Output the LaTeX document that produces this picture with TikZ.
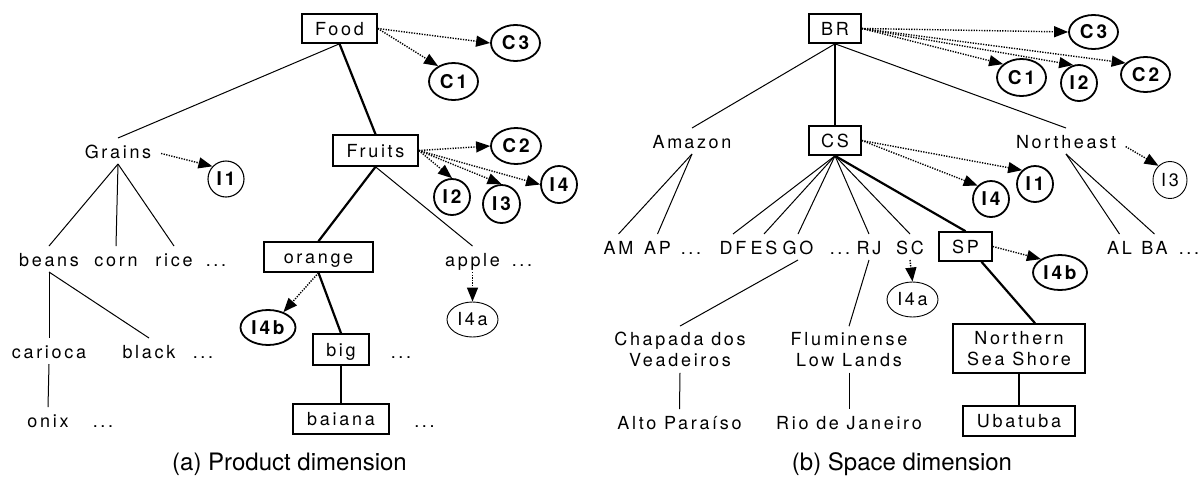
\documentclass[tikz,border=0pt]{standalone}
\usepackage{fontspec}
\setmainfont{TeX Gyre Heros}
\newfontfamily\lblfont[LetterSpace=15]{TeX Gyre Heros}
\newfontfamily\capfont{TeX Gyre Heros}
\usetikzlibrary{shapes.geometric,arrows.meta,calc}

\begin{document}
\begin{tikzpicture}[x=1pt, y=-1pt,
  every node/.style={font=\lblfont\fontsize{18}{21}\selectfont},
  lbl/.style={inner sep=0pt, outer ysep=6pt, text height=14pt, text depth=0pt},
  multi/.style={inner sep=0pt, outer ysep=6pt, align=center},
  tallbox/.style={draw, line width=1.6pt, inner sep=0pt},
  box/.style={tallbox, text height=13pt, text depth=0pt},
  bub/.style={ellipse, draw, inner sep=0pt, line width=1.8pt,
    font=\lblfont\bfseries\fontsize{19}{21}\selectfont,
    minimum width=49pt, minimum height=36pt},
  ibub/.style={bub, minimum width=36pt, minimum height=36pt},
  midbub/.style={ibub, line width=1.1pt},
  thinbub/.style={ellipse, draw, inner sep=0pt, line width=0.9pt},
  caption/.style={inner sep=0pt, font=\capfont\fontsize{24}{28}\selectfont},
  edge/.style={line width=1pt},
  strong/.style={line width=2.2pt},
  ref/.style={line width=1.4pt, dash pattern=on 1.3pt off 1.3pt,
    -{Triangle[length=14pt,width=11pt]}},
]
\useasboundingbox (0,0) rectangle (1199,480);

% ---------- (a) Product dimension ----------
\node[box, minimum width=75pt, minimum height=29pt] (food) at (339.5,28.5) {Food};
\node[lbl] (grains) at (118,151) {Grains};
\node[box, minimum width=85pt, minimum height=31pt] (fruits) at (375.5,150.5) {Fruits};
\node[bub] (c3L) at (515.5,43) {C3};
\node[bub, minimum height=37pt] (c1L) at (453.5,81.5) {C1};
\node[bub, minimum width=50pt] (c2L) at (516,146) {C2};
\node[ibub] (i2L) at (452,197) {I2};
\node[ibub, minimum width=37pt, minimum height=38pt] (i3L) at (501.5,204) {I3};
\node[ibub, minimum height=37pt] (i4L) at (559,184.5) {I4};
\node[midbub] (i1L) at (226,179) {I1};

\node[lbl] (beans) at (49,259) {beans};
\node[lbl] (corn) at (116,259) {corn};
\node[lbl] (rice) at (174,259) {rice};
\node[lbl] (moreG) at (216,259) {...};
\node[box, minimum width=109pt, minimum height=30pt] (orange) at (318.5,257) {orange};
\node[lbl] (apple) at (472.5,259) {apple};
\node[lbl] (moreF) at (522,259) {...};
\node[thinbub, minimum width=51pt, minimum height=35pt] (i4aL) at (472.5,319.5) {I4a};
\node[bub, minimum width=55pt, minimum height=35pt] (i4bL) at (268,327.5) {I4b};

\node[lbl] (carioca) at (49,351) {carioca};
\node[lbl] (black) at (149,351) {black};
\node[lbl] (moreB) at (203,351) {...};
\node[box, minimum width=56pt, minimum height=31pt] (big) at (341,349.5) {big};
\node[lbl] (moreO) at (401,351) {...};
\node[lbl] (onix) at (48,420) {onix};
\node[lbl] (moreC) at (103,420) {...};
\node[box, minimum width=96pt, minimum height=30pt] (baiana) at (341,419) {baiana};
\node[lbl] (moreBig) at (424.5,420) {...};
\node[caption] (capA) at (289.5,464) {(a) Product dimension};

\draw[edge] (food.south) -- (grains.north);
\draw[strong] (food.south) -- (fruits.north);
\foreach \c in {beans,corn,rice} \draw[edge] (grains.south) -- (\c.north);
\draw[strong] (fruits.south) -- (orange.north);
\draw[edge] (fruits.south) -- (apple.north);
\draw[edge] (beans.south) -- (carioca.north);
\draw[edge] (beans.south) -- (black.north);
\draw[edge] (carioca.south) -- (onix.north);
\draw[strong] (orange.south) -- (big.north);
\draw[strong] (big.south) -- (baiana.north);

\draw[ref] (food.east) -- (c3L.west);
\draw[ref] (food.east) -- (c1L.135);
\draw[ref] (fruits.east) -- (c2L.west);
\draw[ref] (fruits.east) -- (i2L.north);
\draw[ref] (fruits.east) -- (i3L.north);
\draw[ref] (fruits.east) -- (i4L.west);
\draw[ref, shorten <=10pt] (grains.east) -- (i1L.137);
\draw[ref] (orange.south) -- (i4bL.45);
\draw[ref] (apple.south) -- (i4aL.north);

% ---------- (b) Space dimension ----------
\node[box, minimum width=52pt, minimum height=29pt] (br) at (835,28.5) {BR};
\node[lbl] (amazon) at (692,141) {Am\kern2pt azon};
\node[box, minimum width=52pt, minimum height=29pt] (cs) at (835,140.5) {CS};
\node[lbl] (northeast) at (1066,141) {Northeast};
\node[bub, minimum height=34pt] (c3R) at (1093.5,32) {C3};
\node[bub, minimum height=37pt] (c1R) at (1021.5,77.5) {C1};
\node[ibub] (i2R) at (1079,83) {I2};
\node[bub, minimum height=35pt] (c2R) at (1145.5,74.5) {C2};
\node[ibub] (i1R) at (1035,184) {I1};
\node[ibub] (i4R) at (991,199) {I4};
\node[thinbub, minimum width=34pt, minimum height=37pt] (i3R) at (1170,180) {I3};

\node[lbl] (am) at (618.5,247) {AM};
\node[lbl] (ap) at (657.5,247) {AP};
\node[lbl] (moreAm) at (691,247) {...};
\node[lbl] (df) at (733,247) {DF};
\node[lbl] (es) at (764,247) {ES};
\node[lbl] (go) at (798,247) {GO};
\node[lbl] (moreCS) at (840,247) {...};
\node[lbl] (rj) at (869,247) {RJ};
\node[lbl] (sc) at (910,247) {SC};
\node[box, minimum width=53pt, minimum height=29pt] (sp) at (965.5,246.5) {SP};
\node[lbl] (al) at (1119.5,247) {AL};
\node[lbl] (ba) at (1154.5,247) {BA};
\node[lbl] (moreNE) at (1189,247) {...};
\node[thinbub, minimum width=51pt, minimum height=35pt] (i4aR) at (912.5,299.5) {I4a};
\node[bub, minimum width=54pt, minimum height=35pt] (i4bR) at (1060,272.5) {I4b};

\node[multi] (chapada) at (680,349.4) {Chapada dos\\Veadeiros};
\node[multi] (flum) at (849,349.4) {Flum\kern2pt inense\\Low Lands};
\node[tallbox, minimum width=132pt, minimum height=49pt, align=center] (nss) at (1019,348.5) {Northern\\Sea Shore};
\node[lbl] (alto) at (679.5,422) {Alto Paraíso};
\node[lbl] (rio) at (849,422) {Rio de Janeiro};
\node[box, minimum width=112pt, minimum height=30pt] (uba) at (1019,421) {Ubatuba};
\node[caption] (capB) at (902,464) {(b) Space dimension};

\draw[edge] (br.south) -- (amazon.north);
\draw[strong] (br.south) -- (cs.north);
\draw[edge] (br.south) -- (northeast.north);
\foreach \c in {am,ap} \draw[edge] (amazon.south) -- (\c.north);
\foreach \c in {df,es,go,rj,sc} \draw[edge] (cs.south) -- (\c.north);
\draw[strong] (cs.south) -- (sp.north);
\foreach \c in {al,ba} \draw[edge] (northeast.south) -- (\c.north);
\draw[edge] (go.south) -- (chapada.north);
\draw[edge] (rj.south) -- (flum.north);
\draw[edge] (chapada.south) -- (alto.north);
\draw[edge] (flum.south) -- (rio.north);
\draw[strong] ([xshift=16pt]sp.south) -- ([xshift=16pt]nss.north);
\draw[strong] (nss.south) -- (uba.north);

\draw[ref] (br.east) -- (c3R.west);
\draw[ref] (br.east) -- (c1R.144);
\draw[ref] (br.east) -- (i2R.108);
\draw[ref] (br.east) -- (c2R.150);
\draw[ref] (cs.east) -- (i1R.133);
\draw[ref] (cs.east) -- (i4R.135);
\draw[ref, shorten <=11pt] (northeast.east) -- (i3R.129);
\draw[ref] (sc.south) -- (i4aR.north);
\draw[ref] (sp.east) -- (i4bR.145);
\end{tikzpicture}
\end{document}
